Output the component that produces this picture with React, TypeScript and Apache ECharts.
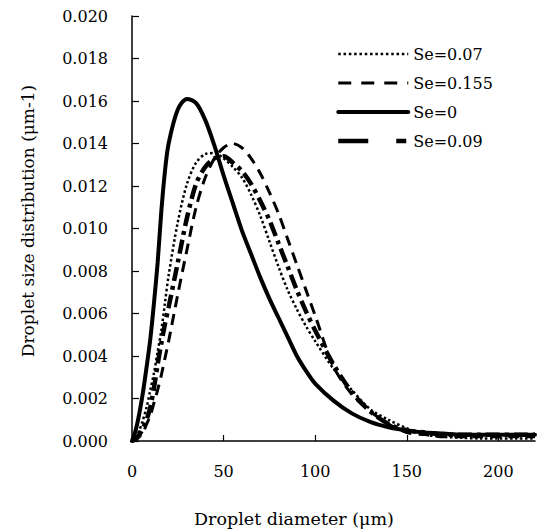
import React, { useEffect, useRef } from "react";
import * as echarts from "echarts";

const diameters = [0, 2, 4, 6, 8, 10, 12, 14, 16, 18, 20, 25, 30, 35, 40, 45, 50, 55, 60, 65, 70, 75, 80, 85, 90, 95, 100, 110, 120, 130, 140, 150, 160, 170, 180, 190, 200, 210, 220];

const se007 = [0, 0.0002, 0.0005, 0.001, 0.0016, 0.0024, 0.0032, 0.0042, 0.0052, 0.0065, 0.0078, 0.0103, 0.0121, 0.0131, 0.0135, 0.01355, 0.0133, 0.0129, 0.0124, 0.0116, 0.0106, 0.0094, 0.0082, 0.0071, 0.0062, 0.0054, 0.0047, 0.0034, 0.0024, 0.0015, 0.001, 0.0006, 0.0003, 0.0002, 0.00015, 0.00012, 0.00012, 0.00012, 0.00012];
const se0155 = [0, 0.00005, 0.0002, 0.0004, 0.0008, 0.0012, 0.0018, 0.0024, 0.0031, 0.0039, 0.0047, 0.0069, 0.009, 0.011, 0.0124, 0.0133, 0.0138, 0.014, 0.0138, 0.0133, 0.0126, 0.0117, 0.0107, 0.0095, 0.0083, 0.0071, 0.0059, 0.0035, 0.0022, 0.0014, 0.0008, 0.0004, 0.0003, 0.0002, 0.0002, 0.0002, 0.0002, 0.0002, 0.0002];
const se0 = [0, 0.0005, 0.0013, 0.0023, 0.0035, 0.0048, 0.0065, 0.0084, 0.0108, 0.0127, 0.014, 0.0156, 0.0161, 0.0159, 0.0151, 0.0139, 0.0125, 0.0112, 0.0099, 0.0088, 0.0077, 0.0067, 0.0058, 0.0049, 0.004, 0.0033, 0.0027, 0.0019, 0.0013, 0.0009, 0.00065, 0.0005, 0.0004, 0.00035, 0.0003, 0.0003, 0.0003, 0.0003, 0.0003];
const se009 = [0, 0.0001, 0.0003, 0.0006, 0.001, 0.0016, 0.0025, 0.0036, 0.0046, 0.0055, 0.0063, 0.0084, 0.0105, 0.0121, 0.0129, 0.0133, 0.0134, 0.0131, 0.0127, 0.0121, 0.0113, 0.0104, 0.0093, 0.0082, 0.0071, 0.0061, 0.0052, 0.0036, 0.0023, 0.0014, 0.0008, 0.0005, 0.0004, 0.0003, 0.0003, 0.0003, 0.0003, 0.0003, 0.0003];

const seriesNames = ["Se=0.07", "Se=0.155", "Se=0", "Se=0.09"];
const xTitle = "Droplet diameter (\u03bcm)";
const yTitle = "Droplet size distribution (\u03bcm-1)";

const FONT = "DejaVu Serif";

function pairs(ys: number[]) {
  return diameters.map((x, i) => [x, ys[i]]);
}

export default function App() {
  const ref = useRef<HTMLDivElement>(null);
  useEffect(() => {
    if (!ref.current) return;
    const chart = echarts.init(ref.current, undefined, { renderer: "svg" });
    const styles: any[] = [
      { width: 2.5, type: [2.5, 2.5], cap: "butt", legendType: [2.5, 2.8] },
      { width: 3, type: [11, 7], cap: "butt", legendType: [13, 10] },
      { width: 4, type: "solid", cap: "round", legendType: "solid" },
      { width: 4.5, type: [14, 5, 4, 5], cap: "butt", legendType: [30, 28, 10] },
    ];
    const datas = [se007, se0155, se0, se009];
    chart.setOption({
      animation: false,
      backgroundColor: "#ffffff",
      color: ["#000", "#000", "#000", "#000"],
      grid: { left: 132, right: 4, top: 16, bottom: 90, containLabel: false },
      legend: {
        orient: "vertical",
        left: 331,
        top: 41,
        itemWidth: 70,
        itemHeight: 14,
        itemGap: 13,
        textStyle: { fontFamily: FONT, fontSize: 16, color: "#000" },
        data: seriesNames.map((n, i) => ({
          name: n,
          itemStyle: { opacity: 0 },
          lineStyle: { type: styles[i].legendType, width: styles[i].width, color: "#000" },
        })),
      },
      xAxis: {
        type: "value",
        min: 0,
        max: 220,
        interval: 50,
        axisLine: { show: true, onZero: false, lineStyle: { color: "#000", width: 1.5 } },
        axisTick: { show: true, inside: true, length: 6, lineStyle: { color: "#000", width: 1.2 } },
        axisLabel: { showMaxLabel: false, margin: 22, fontFamily: FONT, fontSize: 16, color: "#000" },
        splitLine: { show: false },
      },
      yAxis: {
        type: "value",
        min: 0,
        max: 0.02,
        interval: 0.002,
        axisLine: { show: true, lineStyle: { color: "#000", width: 1.5 } },
        axisTick: { show: true, inside: true, length: 7, lineStyle: { color: "#000", width: 1.2 } },
        axisLabel: {
          margin: 24,
          fontFamily: FONT,
          fontSize: 16,
          color: "#000",
          formatter: (v: number) => v.toFixed(3),
        },
        splitLine: { show: false },
      },
      graphic: [
        {
          type: "text",
          x: 294,
          y: 519,
          style: { text: xTitle, fontFamily: FONT, fontSize: 17.5, fill: "#000", align: "center", verticalAlign: "middle" },
        },
        {
          type: "text",
          x: 28,
          y: 221,
          rotation: Math.PI / 2,
          style: { text: yTitle, fontFamily: FONT, fontSize: 17, fill: "#000", align: "center", verticalAlign: "middle" },
        },
      ],
      series: seriesNames.map((n, i) => ({
        name: n,
        type: "line",
        data: pairs(datas[i]),
        smooth: 0.3,
        symbol: "none",
        showSymbol: false,
        z: i === 2 ? 3 : 2,
        itemStyle: { color: "#000" },
        lineStyle: { color: "#000", width: styles[i].width, type: styles[i].type, cap: styles[i].cap },
      })),
    });
    return () => chart.dispose();
  }, []);
  return <div ref={ref} style={{ position: "absolute", left: 0, top: 0, width: 539, height: 531 }} />;
}
